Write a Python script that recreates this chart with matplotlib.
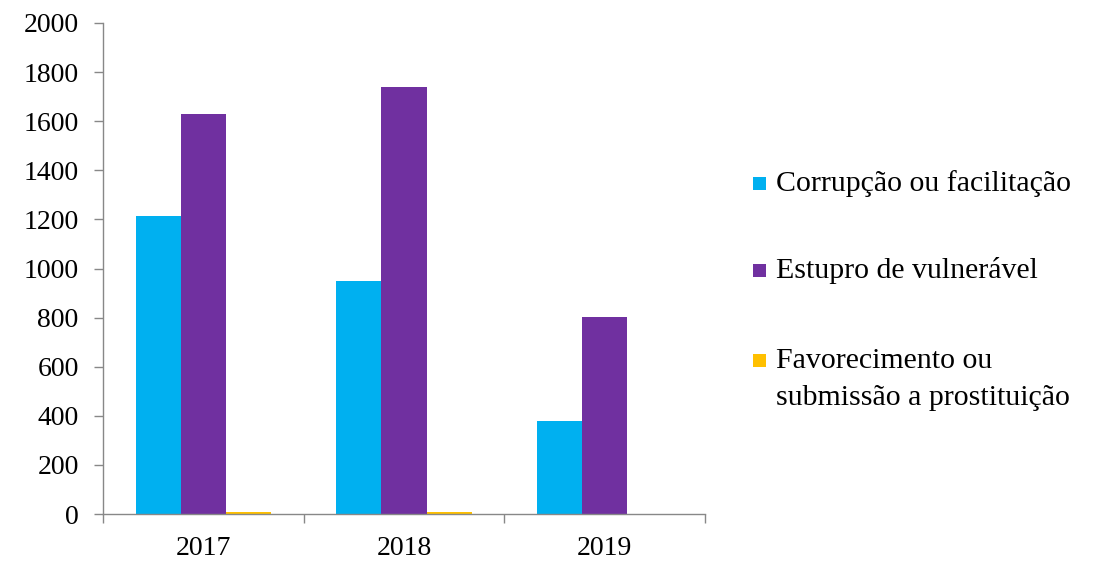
import matplotlib
matplotlib.use("Agg")
import matplotlib.pyplot as plt
from matplotlib.patches import Rectangle
import numpy as np

years = ["2017", "2018", "2019"]
series_names = ["Corrupção ou facilitação", "Estupro de vulnerável",
                "Favorecimento ou\nsubmissão a prostituição"]
corrupcao = [1214, 950, 380]
estupro = [1628, 1738, 802]
favorecimento = [8, 8, 0]
colors = ["#00B0F0", "#7030A0", "#FFC000"]
yticks = [0, 200, 400, 600, 800, 1000, 1200, 1400, 1600, 1800, 2000]

plt.rcParams['font.family'] = ['Liberation Serif', 'DejaVu Serif']

W, H = 1094, 564
fig = plt.figure(figsize=(W / 100, H / 100), dpi=100)
ax = fig.add_axes([103 / W, 1 - 514 / H, 602 / W, 491 / H])

x = np.arange(len(years))
w = 0.225
for i, (vals, name, c) in enumerate(zip([corrupcao, estupro, favorecimento], series_names, colors)):
    ax.bar(x + (i - 1) * w, vals, width=w, color=c, label=name, edgecolor='none')

ax.set_xlim(-0.5, len(years) - 0.5)
ax.set_ylim(0, 2000)
ax.set_yticks(yticks)
ax.set_yticklabels([str(t) for t in yticks], fontsize=20)
ax.set_xticks(x)
ax.set_xticklabels(years, fontsize=20)
ax.set_xticks(np.arange(len(years) + 1) - 0.5, minor=True)
ax.tick_params(axis='x', which='major', length=0, pad=16)
ax.tick_params(axis='x', which='minor', length=6.5, color='#888888', width=1)
ax.tick_params(axis='y', length=6.5, color='#888888', width=1, pad=11)
for s in ['top', 'right']:
    ax.spines[s].set_visible(False)
for s in ['left', 'bottom']:
    ax.spines[s].set_color('#888888')
    ax.spines[s].set_linewidth(1)

# legend (manual layout to match the reference)
baselines = [191, 278, 368]
for name, c, b in zip(series_names, colors, baselines):
    fig.patches.append(Rectangle((753 / W, 1 - (b - 1) / H), 13 / W, 13 / H,
                                 transform=fig.transFigure, facecolor=c,
                                 edgecolor='none'))
    fig.text(776 / W, 1 - b / H, name.split("\n")[0], fontsize=21.5, va='baseline', ha='left')
    for k, extra in enumerate(name.split("\n")[1:], start=1):
        fig.text(776 / W, 1 - (b + 37 * k) / H, extra, fontsize=21.5, va='baseline', ha='left')

fig.savefig("out.png", dpi=100)
